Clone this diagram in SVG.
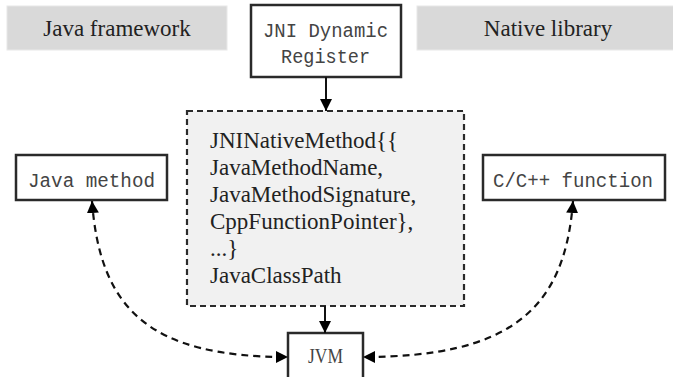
<svg xmlns="http://www.w3.org/2000/svg" width="673" height="377" viewBox="0 0 673 377">
<style>
.band{fill:#d9d9d9;stroke:#e8e8e8;stroke-width:1}
.box{fill:#fff;stroke:#2a2a2a;stroke-width:2.5}
.dbox{fill:#f1f1f1;stroke:#2a2a2a;stroke-width:2.2;stroke-dasharray:6 4}
.mono{font-family:"Liberation Mono","DejaVu Sans Mono",monospace;font-size:20px;fill:#444}
.serif{font-family:"Liberation Serif","Times New Roman",serif;font-size:23px;fill:#222}
.solid{fill:none;stroke:#111;stroke-width:2}
.dash{fill:none;stroke:#111;stroke-width:2.2;stroke-dasharray:7 5}
</style>
<defs>
<marker id="ah" viewBox="0 0 10 10" refX="10" refY="5" markerWidth="12" markerHeight="12" markerUnits="userSpaceOnUse" orient="auto-start-reverse">
<path d="M0,0 L10,5 L0,10 z" fill="#000"/>
</marker>
</defs>
<g id="java-framework">
<rect class="band" x="7" y="6" width="220" height="44"/>
<text class="serif" x="117" y="36" text-anchor="middle">Java framework</text>
</g>
<g id="native-library">
<rect class="band" x="417" y="6" width="260" height="44"/>
<text class="serif" x="548" y="36" text-anchor="middle">Native library</text>
</g>
<g id="jni-dynamic-register">
<rect class="box" x="251" y="5" width="150" height="72"/>
<text class="mono" x="263" y="37" textLength="125" lengthAdjust="spacingAndGlyphs">JNI Dynamic</text>
<text class="mono" x="281" y="63" textLength="89" lengthAdjust="spacingAndGlyphs">Register</text>
</g>
<g id="jni-native-method">
<rect class="dbox" x="187" y="111" width="277" height="195"/>
<text class="serif" x="210" y="148">JNINativeMethod{{</text>
<text class="serif" x="210" y="175">JavaMethodName,</text>
<text class="serif" x="210" y="202">JavaMethodSignature,</text>
<text class="serif" x="210" y="229">CppFunctionPointer},</text>
<text class="serif" x="210" y="256">...}</text>
<text class="serif" x="210" y="283">JavaClassPath</text>
</g>
<g id="java-method">
<rect class="box" x="16" y="155" width="151" height="45"/>
<text class="mono" x="28" y="187" textLength="127" lengthAdjust="spacingAndGlyphs">Java method</text>
</g>
<g id="cpp-function">
<rect class="box" x="483" y="155" width="182" height="45"/>
<text class="mono" x="493" y="187" textLength="160" lengthAdjust="spacingAndGlyphs">C/C++ function</text>
</g>
<g id="jvm">
<rect class="box" x="288" y="333" width="75" height="50"/>
<text class="serif" x="308" y="363" style="font-size:21px;fill:#444" textLength="35" lengthAdjust="spacingAndGlyphs">JVM</text>
</g>
<g id="connectors">
<line class="solid" x1="326" y1="77" x2="326" y2="111" marker-end="url(#ah)"/>
<line class="solid" x1="325" y1="306" x2="325" y2="333" marker-end="url(#ah)"/>
<path class="dash" d="M92,201 C100,310 150,357 288,357" marker-start="url(#ah)" marker-end="url(#ah)"/>
<path class="dash" d="M573,201 C565,310 510,357 363,357" marker-start="url(#ah)" marker-end="url(#ah)"/>
</g>
</svg>
